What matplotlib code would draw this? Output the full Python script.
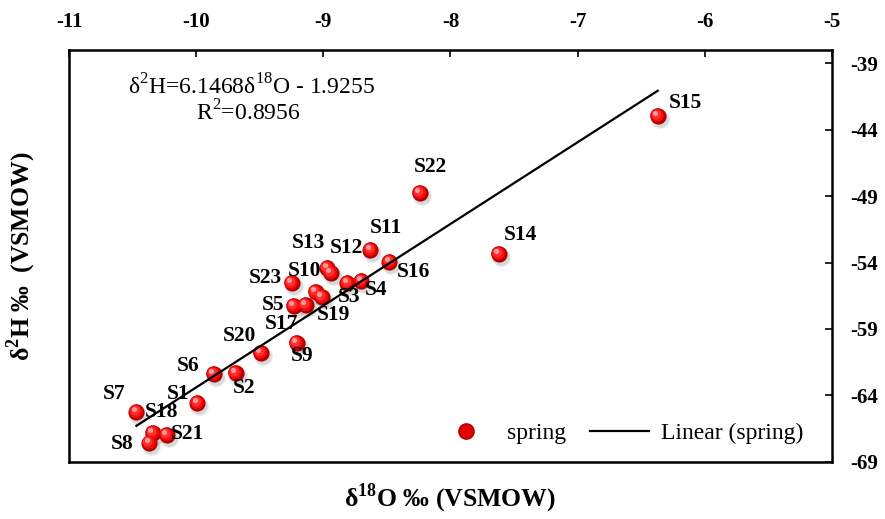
import matplotlib
matplotlib.use("Agg")
import matplotlib.pyplot as plt
from matplotlib.transforms import offset_copy
from matplotlib.lines import Line2D
import numpy as np

plt.rcParams['font.family'] = ['Liberation Serif', 'DejaVu Serif']
plt.rcParams['mathtext.fontset'] = 'custom'
plt.rcParams['mathtext.rm'] = 'Liberation Serif'
plt.rcParams['mathtext.bf'] = 'Liberation Serif:bold'
plt.rcParams['axes.unicode_minus'] = False

# spring samples
names = ['S1', 'S2', 'S3', 'S4', 'S5', 'S6', 'S7', 'S8', 'S9', 'S10', 'S11', 'S12',
         'S13', 'S14', 'S15', 'S16', 'S17', 'S18', 'S19', 'S20', 'S21', 'S22', 'S23']
d18O = [-9.99, -9.69, -8.81, -8.70, -9.23, -9.86, -10.47, -10.37, -9.21, -9.06, -8.63, -8.94,
        -8.97, -7.62, -6.37, -8.48, -9.14, -10.34, -9.01, -9.49, -10.23, -8.24, -9.25]
d2H = [-64.56, -62.30, -55.53, -55.38, -57.26, -62.38, -65.24, -67.57, -60.05, -56.20, -53.05, -54.78,
       -54.40, -53.35, -42.97, -53.95, -57.20, -66.82, -56.60, -60.80, -66.97, -48.76, -55.53]

# regression line
slope = 6.1468
intercept = -1.9255
r2 = 0.8956

xticks = [-11, -10, -9, -8, -7, -6, -5]
yticks = [-69, -64, -59, -54, -49, -44, -39]

# label offsets in pixels (dx, dy) from each point
lab_off = {
    'S1': (-19, 9), 'S2': (8, -15), 'S3': (2, -14), 'S4': (15, -9), 'S5': (-21, 1),
    'S6': (-26, 8), 'S7': (-22, 18), 'S8': (-27, -1), 'S9': (6, -13), 'S10': (-11, 21),
    'S11': (16, 22), 'S12': (15, 25), 'S13': (-19, 25), 'S14': (22, 19), 'S15': (28, 13),
    'S16': (24, -10), 'S17': (-24, -19), 'S18': (9, 21), 'S19': (11, -18), 'S20': (-22, 17),
    'S21': (21, 1), 'S22': (10, 26), 'S23': (-26, 5),
}

fig = plt.figure(figsize=(8.85, 5.19), dpi=100)
ax = fig.add_axes([0.078, 0.110, 0.862, 0.794])


def spheres(ax, x, y, s):
    # soft shadow
    for k, a in [(1.5, 0.06), (1.25, 0.08), (1.05, 0.12)]:
        tr = offset_copy(ax.transData, fig=fig, x=2, y=-3, units='dots')
        ax.scatter(x, y, s=s * k, color='#606060', alpha=a, linewidths=0, transform=tr, zorder=2)
    # shaded ball
    layers = [(1.0, '#a80000', 0, 0), (0.8, '#d80000', -0.6, 0.6), (0.58, '#f41010', -1.2, 1.2),
              (0.35, '#ff3030', -1.8, 1.8), (0.1, '#ff9a9a', -2.6, 2.8)]
    for k, c, dx, dy in layers:
        tr = offset_copy(ax.transData, fig=fig, x=dx, y=dy, units='dots')
        ax.scatter(x, y, s=s * k, color=c, linewidths=0, transform=tr, zorder=3)


spheres(ax, d18O, d2H, 135)

xl = np.array([min(d18O), max(d18O)])
ax.plot(xl, slope * xl + intercept, color='black', lw=1.6, zorder=4)

for n, x, y in zip(names, d18O, d2H):
    dx, dy = lab_off[n]
    ax.annotate(n, (x, y), xytext=(dx, dy), textcoords='offset pixels', ha='center', va='center',
                fontsize=15.5, fontweight='bold', zorder=5)

ax.text(0.077, 0.91, r'δ$^\mathregular{2}$H=6.1468δ$^\mathregular{18}$O - 1.9255',
        transform=ax.transAxes, fontsize=17, va='center', ha='left')
ax.text(0.235, 0.847, r'R$^\mathregular{2}$=' + f'{r2:.4f}',
        transform=ax.transAxes, fontsize=17, va='center', ha='center')

ax.set_xlim(-11, -5)
ax.set_ylim(-69, -38)
ax.set_xticks(xticks)
ax.set_yticks(yticks)
ax.xaxis.tick_top()
ax.yaxis.tick_right()
ax.tick_params(direction='in', length=5, width=1.2, labelsize=15, pad=13)
for lab in ax.get_xticklabels() + ax.get_yticklabels():
    lab.set_fontweight('bold')
for sp in ax.spines.values():
    sp.set_linewidth(1.8)

ax.xaxis.set_label_position('bottom')
ax.yaxis.set_label_position('left')
ax.set_xlabel(r'δ$^\mathregular{18}$O ‰ (VSMOW)', fontsize=18.5, fontweight='bold', labelpad=14)
ax.set_ylabel(r'δ$^\mathregular{2}$H ‰  (VSMOW)', fontsize=18.5, fontweight='bold', labelpad=22)

handles = [Line2D([], [], ls='none', marker='o', ms=11, mfc='#e00000', mec='#b00000'),
           Line2D([], [], color='black', lw=1.6)]
ax.legend(handles, ['spring', 'Linear (spring)'], ncol=2, frameon=False, fontsize=17,
          loc='center right', bbox_to_anchor=(0.99, 0.07), handlelength=2.5, columnspacing=1.0,
          handletextpad=0.5)

fig.savefig('out.png', dpi=100)
